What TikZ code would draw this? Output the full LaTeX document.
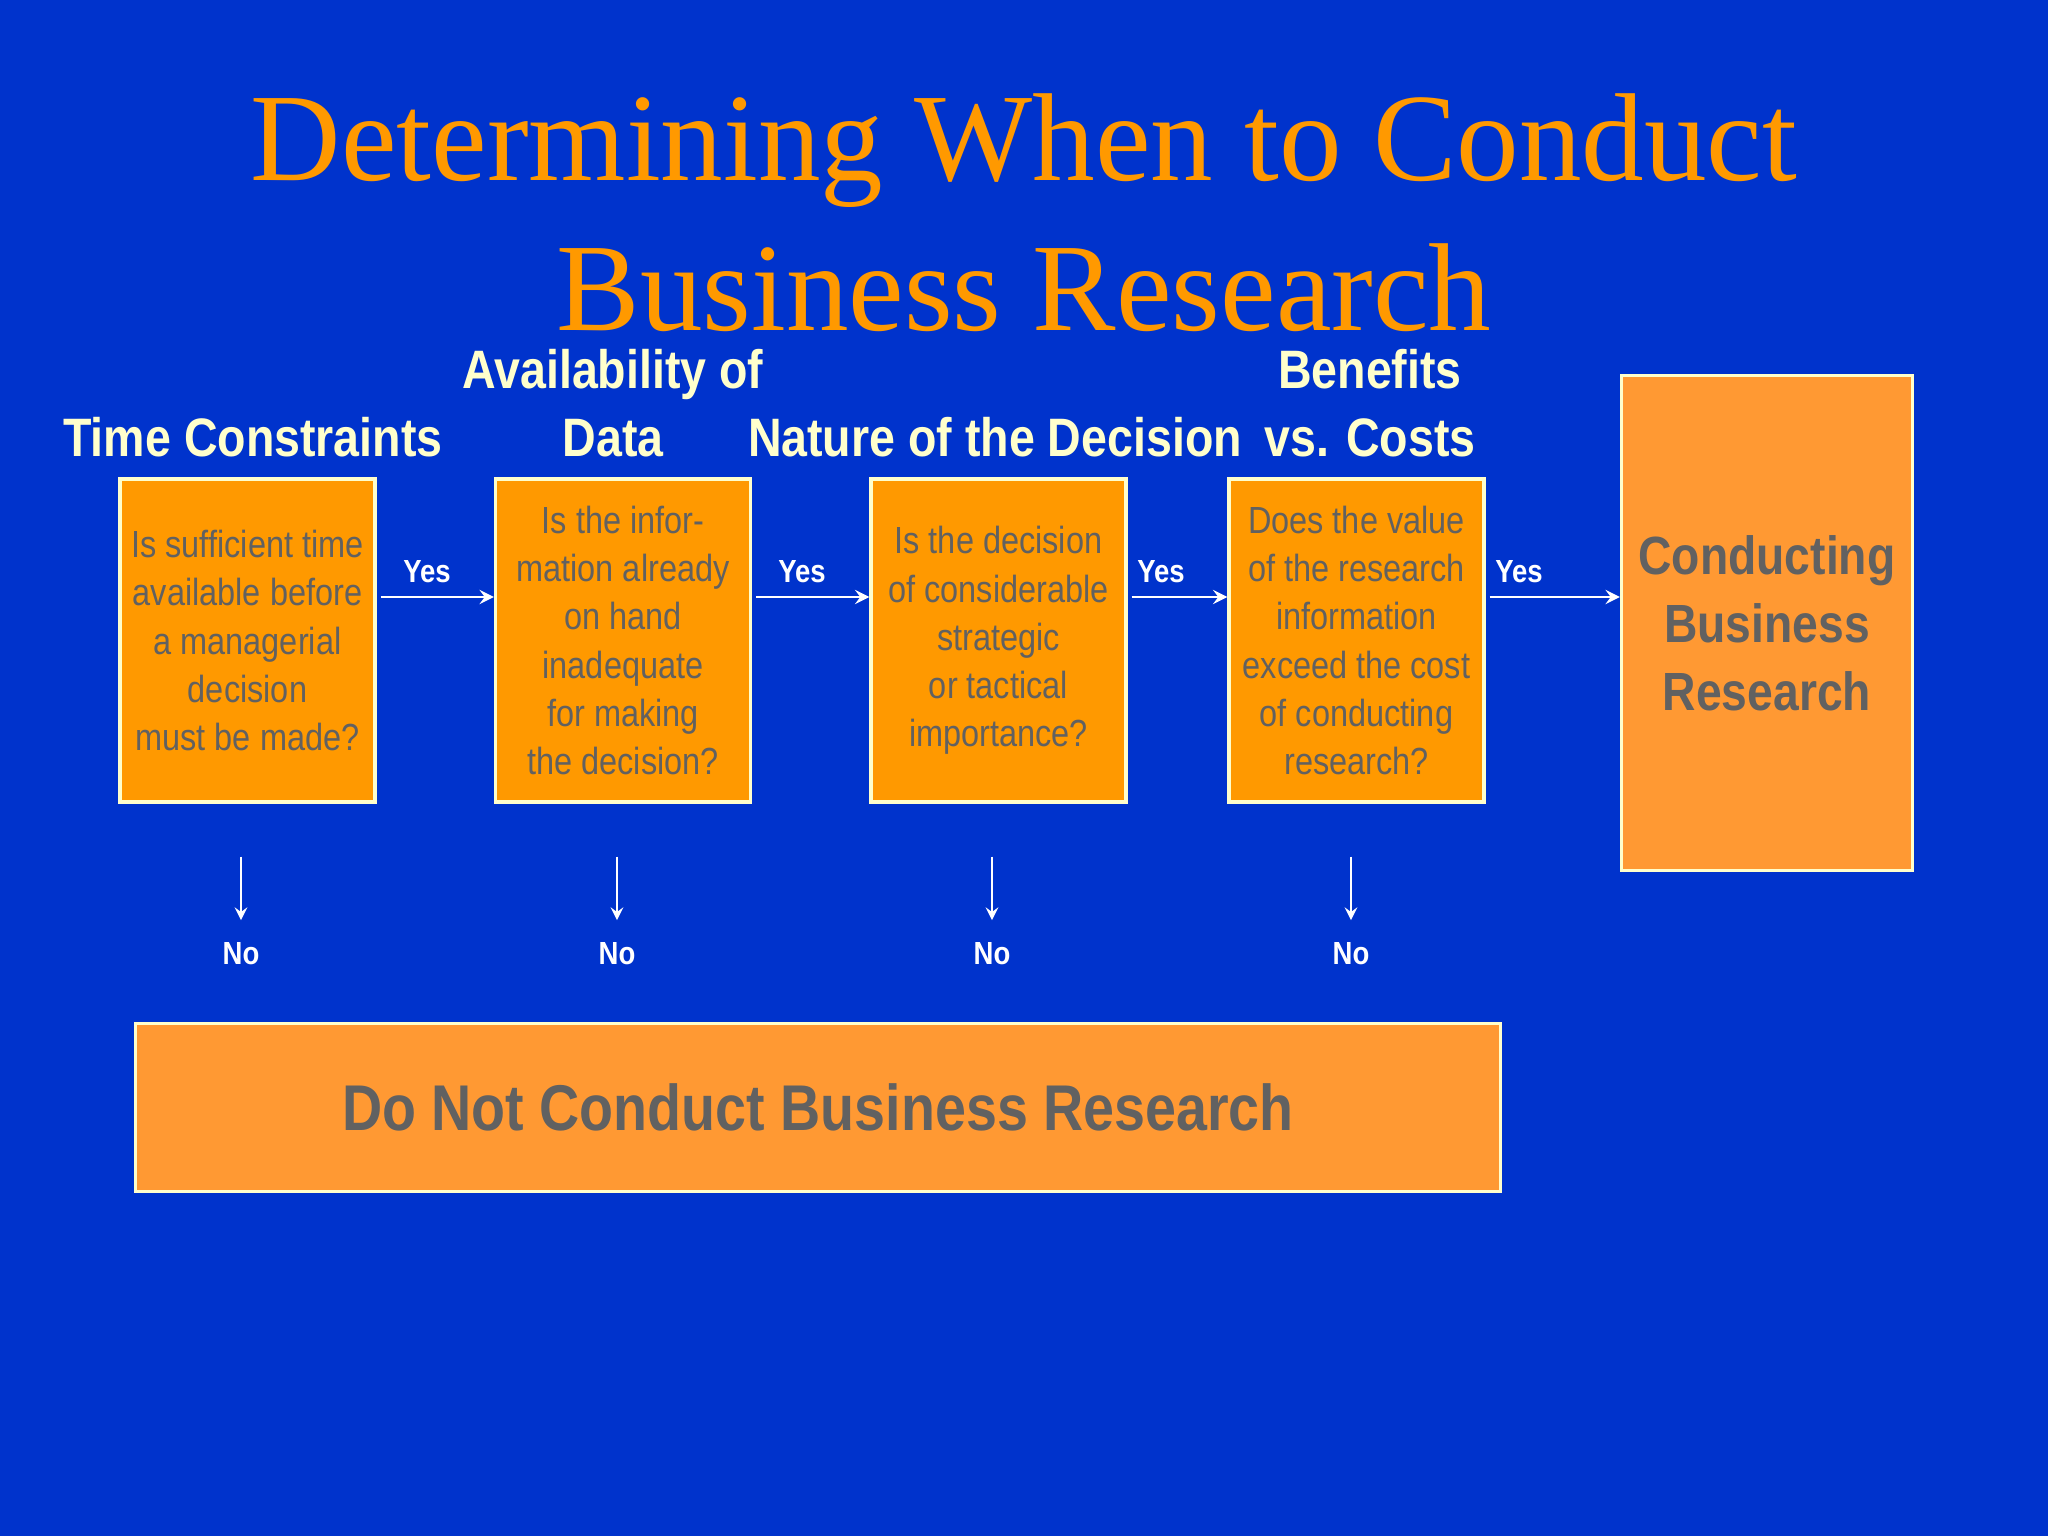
\documentclass[tikz,border=0pt]{standalone}
\usepackage{fontspec}
\setmainfont{Liberation Serif}
\newfontfamily\slidesans[FakeStretch=0.86]{Liberation Sans}
\begin{document}
\begin{tikzpicture}[banner/.style={font=\fontsize{35.6}{42.7}\selectfont, text=slOrange, align=center, inner sep=0pt}, heading/.style={anchor=south, font=\slidesans\bfseries\fontsize{15.4}{19.3}\selectfont, text=slCream, align=center, inner sep=0pt}, ask/.style={draw=slCream, line width=0.9pt, fill=slOrange, text=slGrey, minimum width=2.55cm, minimum height=3.23cm, inner sep=0pt, align=center, font=\slidesans\fontsize{10.75}{13.7}\selectfont}, goal/.style={draw=slCream, line width=0.9pt, fill=slPeach, text=slGrey, minimum width=2.91cm, minimum height=4.95cm, inner sep=0pt, align=center, font=\slidesans\bfseries\fontsize{15.3}{19.3}\selectfont}, halt/.style={draw=slCream, line width=0.9pt, fill=slPeach, text=slGrey, minimum width=13.65cm, minimum height=1.68cm, inner sep=0pt, font=\slidesans\bfseries\fontsize{18.4}{22}\selectfont}, reply/.style={font=\slidesans\bfseries\fontsize{9.1}{11}\selectfont, text=white, inner sep=0pt}, flow/.style={->, >=stealth, line width=0.8pt, white, shorten <=0.04cm}, drop/.style={->, >=stealth, line width=0.6pt, white, shorten <=0.53cm, shorten >=0.22cm}]
\definecolor{slBlue}{rgb}{0.00,0.20,0.80}
\definecolor{slOrange}{rgb}{1.00,0.60,0.00}
\definecolor{slPeach}{rgb}{1.00,0.60,0.20}
\definecolor{slGrey}{rgb}{0.38,0.38,0.38}
\definecolor{slCream}{rgb}{1.00,1.00,0.80}
\fill[slBlue] (0,0) rectangle (20.48,-15.36);
\node[banner] (banner) at (10.24,-2.125) {Determining When to Conduct\\Business Research};
\node[heading] (hTime) at (2.53,-4.58) {Time Constraints};
\node[heading] (hData) at (6.13,-4.58) {Availability of\\Data};
\node[heading] (hNature) at (9.95,-4.58) {Nature of the Decision};
\node[heading] (hCost) at (13.70,-4.58) {Benefits\\vs. Costs};
\node[ask] (qTime) at (2.475,-6.405) {Is sufficient time\\available before\\a managerial\\decision\\must be made?};
\node[ask] (qData) at (6.23,-6.405) {Is the infor-\\mation already\\on hand\\inadequate\\for making\\the decision?};
\node[ask] (qNature) at (9.985,-6.405) {Is the decision\\of considerable\\strategic\\or tactical\\importance?};
\node[ask] (qCost) at (13.565,-6.405) {Does the value\\of the research\\information\\exceed the cost\\of conducting\\research?};
\node[goal] (doIt) at (17.67,-6.23) {Conducting\\Business\\Research};
\coordinate (yesRow) at (0,-5.97);
\draw[flow] (qTime.east |- yesRow) -- (qData.west |- yesRow);
\draw[flow] (qData.east |- yesRow) -- (qNature.west |- yesRow);
\draw[flow] (qNature.east |- yesRow) -- (qCost.west |- yesRow);
\draw[flow] (qCost.east |- yesRow) -- (doIt.west |- yesRow);
\node[reply] (yTime) at (4.27,-5.72) {Yes};
\node[reply] (yData) at (8.02,-5.72) {Yes};
\node[reply] (yNature) at (11.61,-5.72) {Yes};
\node[reply] (yCost) at (15.19,-5.72) {Yes};
\node[reply] (nTime) at (2.41,-9.54) {No};
\node[reply] (nData) at (6.17,-9.54) {No};
\node[reply] (nNature) at (9.92,-9.54) {No};
\node[reply] (nCost) at (13.51,-9.54) {No};
\draw[drop] (qTime.south -| nTime) -- (nTime.north);
\draw[drop] (qData.south -| nData) -- (nData.north);
\draw[drop] (qNature.south -| nNature) -- (nNature.north);
\draw[drop] (qCost.south -| nCost) -- (nCost.north);
\node[halt] (dontDo) at (8.18,-11.075) {Do Not Conduct Business Research};
\end{tikzpicture}
\end{document}
